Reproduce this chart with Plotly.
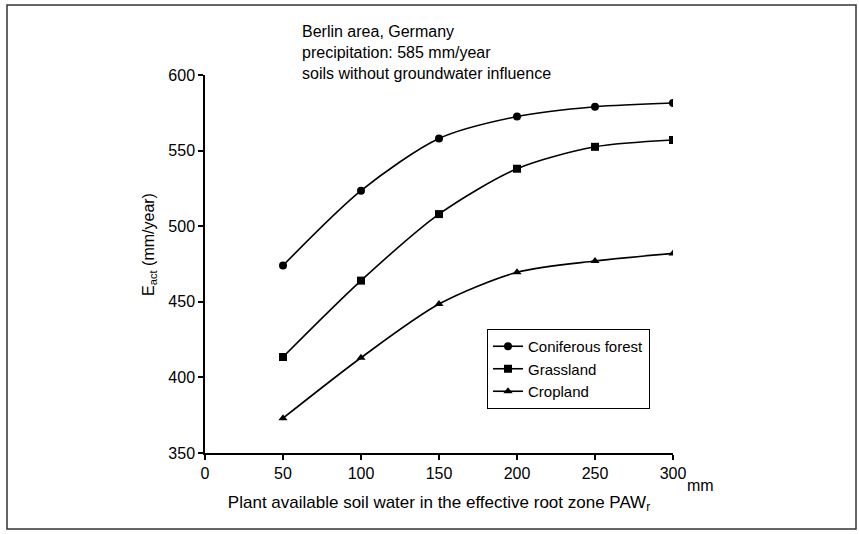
import plotly.graph_objects as go

paw = [50, 100, 150, 200, 250, 300]
coniferous = [474, 523.5, 558, 572.5, 579, 581.5]
grassland = [413.5, 464, 508, 538, 552.5, 557]
cropland = [373, 413, 448.5, 469.5, 477, 482]

x_ticks = [0, 50, 100, 150, 200, 250, 300]
y_ticks = [350, 400, 450, 500, 550, 600]

FONT = "Liberation Sans, Arial, sans-serif"

fig = go.Figure()
series = [
    ("Coniferous forest", coniferous, "circle"),
    ("Grassland", grassland, "square"),
    ("Cropland", cropland, "triangle-up"),
]
for name, vals, sym in series:
    fig.add_trace(go.Scatter(
        x=paw, y=vals, name=name, mode="lines+markers",
        line=dict(color="black", width=1.6, shape="spline", smoothing=0.8),
        marker=dict(symbol=sym, size=8, color="black"),
    ))

L, R, T, B = 205, 673, 75, 453
W, H = 859, 534
pw, ph = R - L, B - T

fig.update_layout(
    width=W, height=H,
    margin=dict(l=L, r=W - R, t=T, b=H - B),
    plot_bgcolor="white", paper_bgcolor="white",
    font=dict(family=FONT, size=16, color="black"),
    showlegend=True,
    legend=dict(
        x=(487 - L) / pw, y=(B - 329) / ph, xanchor="left", yanchor="top",
        bordercolor="black", borderwidth=1, bgcolor="white",
        font=dict(family=FONT, size=15, color="black"),
        itemwidth=30, tracegroupgap=0,
    ),
    xaxis=dict(
        range=[0, 300], tickvals=x_ticks, ticktext=[str(v) for v in x_ticks],
        showgrid=False, zeroline=False, showline=True, linecolor="black", linewidth=1.5,
        ticks="outside", ticklen=5, tickcolor="black", tickwidth=1.5,
        tickfont=dict(family=FONT, size=16, color="black"),
        title=dict(text="Plant available soil water in the effective root zone PAW<sub>r</sub>",
                   font=dict(family=FONT, size=17, color="black"), standoff=15),
    ),
    yaxis=dict(
        range=[350, 600], tickvals=y_ticks,
        showgrid=False, zeroline=False, showline=True, linecolor="black", linewidth=1.5,
        ticks="outside", ticklen=5, tickcolor="black", tickwidth=1.5,
        tickfont=dict(family=FONT, size=16, color="black"),
    ),
)

# y-axis title placed as rotated text
fig.add_annotation(
    x=(149 - L) / pw, y=(B - 245) / ph, xref="paper", yref="paper",
    xanchor="center", yanchor="middle", showarrow=False, textangle=-90,
    text="E<sub>act</sub> (mm/year)",
    font=dict(family=FONT, size=16, color="black"),
)
fig.add_annotation(
    x=(300 - L) / pw, y=(B - 21) / ph, xref="paper", yref="paper",
    xanchor="left", yanchor="top", align="left", showarrow=False,
    text="Berlin area, Germany<br>precipitation: 585 mm/year<br>soils without groundwater influence",
    font=dict(family=FONT, size=16, color="black"),
)
fig.add_annotation(
    x=(685 - L) / pw, y=(B - 485) / ph, xref="paper", yref="paper",
    xanchor="left", yanchor="middle", showarrow=False,
    text="mm", font=dict(family=FONT, size=16, color="black"),
)
fig.add_shape(
    type="rect", xref="paper", yref="paper",
    x0=(7 - L) / pw, x1=(856 - L) / pw, y0=(B - 529) / ph, y1=(B - 5) / ph,
    line=dict(color="#333", width=1.5), fillcolor="rgba(0,0,0,0)", layer="below",
)

fig.write_html("out.html")
